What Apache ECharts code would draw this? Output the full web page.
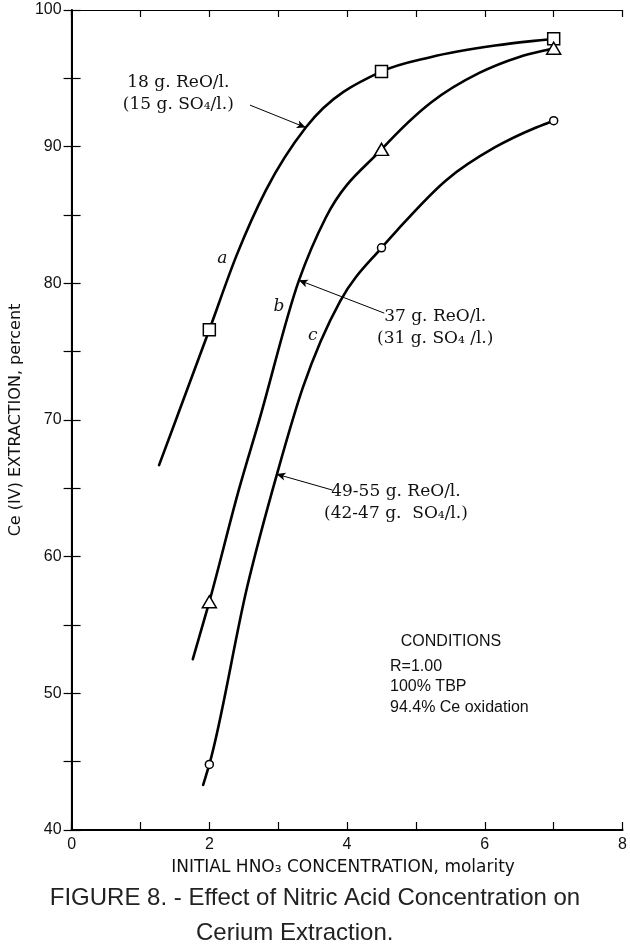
<!DOCTYPE html>
<html><head><meta charset="utf-8">
<script src="https://cdn.jsdelivr.net/npm/echarts@6/dist/echarts.min.js"></script>
<style>html,body{margin:0;padding:0;background:#fff}#c{width:630px;height:952px}</style>
</head><body><div id="c"></div>
<script>
// ---- data ----
const xTickLabels = [0, 2, 4, 6, 8];
const yTickLabels = [40, 50, 60, 70, 80, 90, 100];
const markerX = [2, 4.5, 7];
const squareY = [76.6, 95.5, 97.9];     // curve a
const triangleY = [56.7, 89.8, 97.2];   // curve b
const circleY = [44.8, 82.6, 91.9];     // curve c
const curveAX = [1.27, 2.0, 2.40, 2.82, 3.40, 4.5, 5.21, 6.15, 7.0];
const curveAY = [66.7, 76.6, 82.1, 86.8, 91.4, 95.5, 96.55, 97.4, 97.9];
const curveBX = [1.76, 2.0, 2.44, 2.72, 3.30, 3.69, 4.5, 5.21, 5.92, 6.49, 7.0];
const curveBY = [52.5, 56.7, 65.1, 69.9, 80.2, 84.8, 89.8, 93.2, 95.4, 96.55, 97.2];
const curveCX = [1.91, 2.0, 2.55, 2.98, 3.36, 3.90, 4.5, 4.73, 5.44, 6.15, 6.72, 7.0];
const curveCY = [43.3, 44.8, 57.8, 66.0, 72.4, 78.7, 82.6, 83.9, 87.55, 89.96, 91.35, 91.9];
const curveLetters = ['a', 'b', 'c'];
const curveNotes = ['18 g. ReO/l.\n(15 g. SO\u2084/l.)', '37 g. ReO/l.\n(31 g. SO\u2084 /l.)', '49-55 g. ReO/l.\n(42-47 g.  SO\u2084/l.)'];
const conditions = ['CONDITIONS', 'R=1.00', '100% TBP', '94.4% Ce oxidation'];

const pairs = (xs, ys) => xs.map((x, i) => [x, ys[i]]);
const chart = echarts.init(document.getElementById('c'), null, {renderer: 'canvas'});
const ink = '#111';
const serif = 'DejaVu Serif';
const sans = 'Liberation Sans';

// smooth C1 curve through the read points (cubic Hermite), mapped through the axes with api.coord
function curvePath(xs, ys, api) {
  const n = xs.length, h = [], d = [], m = [];
  for (let i = 0; i < n - 1; i++) { h[i] = xs[i + 1] - xs[i]; d[i] = (ys[i + 1] - ys[i]) / h[i]; }
  m[0] = d[0]; m[n - 1] = d[n - 2];
  for (let i = 1; i < n - 1; i++) m[i] = (d[i - 1] * h[i] + d[i] * h[i - 1]) / (h[i - 1] + h[i]);
  const P = (x, y) => api.coord([x, y]);
  const s = p => p[0].toFixed(2) + ' ' + p[1].toFixed(2);
  let path = 'M' + s(P(xs[0], ys[0]));
  for (let i = 0; i < n - 1; i++) {
    const c1 = P(xs[i] + h[i] / 3, ys[i] + m[i] * h[i] / 3);
    const c2 = P(xs[i + 1] - h[i] / 3, ys[i + 1] - m[i + 1] * h[i] / 3);
    path += ' C' + s(c1) + ' ' + s(c2) + ' ' + s(P(xs[i + 1], ys[i + 1]));
  }
  return path;
}
const curveSeries = (name, xs, ys) => ({
  name, type: 'custom', coordinateSystem: 'cartesian2d', data: pairs(xs, ys), silent: true, z: 2,
  encode: {x: 0, y: 1},
  renderItem: (params, api) => params.dataIndex !== 0 ? null : {
    type: 'path', shape: {pathData: curvePath(xs, ys, api)},
    style: {fill: 'none', stroke: '#000', lineWidth: 2.6, lineCap: 'round', lineJoin: 'round'}
  }
});
const markerSeries = (name, ys, symbol, size) => ({
  name, type: 'scatter', data: pairs(markerX, ys), symbol, symbolSize: size,
  itemStyle: {color: '#fff', borderColor: '#000', borderWidth: 1.5, opacity: 1}, z: 3, silent: true
});

const textItem = (pos, text, style) => ({value: pos, label: Object.assign({show: true, formatter: text, position: 'inside', color: ink}, style)});

const option = {
  animation: false,
  backgroundColor: '#fff',
  grid: {left: 61, right: 7, top: 10, bottom: 122, containLabel: false},
  xAxis: [{
    type: 'value', min: 0, max: 8, interval: 1, position: 'bottom',
    axisLine: {lineStyle: {color: '#000', width: 2}},
    axisTick: {inside: true, length: 8, lineStyle: {color: '#000', width: 1.2}},
    axisLabel: {formatter: v => xTickLabels.includes(v) ? String(v) : '', color: ink, fontSize: 16, fontFamily: sans, margin: 7},
    splitLine: {show: false},
    name: 'INITIAL HNO\u2083 CONCENTRATION, molarity', nameLocation: 'middle', nameGap: 29,
    nameTextStyle: {color: ink, fontSize: 17, fontFamily: 'DejaVu Sans', padding: [0, 8, 0, 0]}
  }, {
    type: 'value', min: 0, max: 8, interval: 1, position: 'top',
    axisLine: {lineStyle: {color: '#000', width: 1.2}},
    axisTick: {inside: true, length: 7, lineStyle: {color: '#000', width: 1.2}},
    axisLabel: {show: false}, splitLine: {show: false}
  }],
  yAxis: [{
    type: 'value', min: 40, max: 100, interval: 5, position: 'left',
    axisLine: {lineStyle: {color: '#000', width: 2}},
    axisTick: {inside: true, length: 9, lineStyle: {color: '#000', width: 1.2}},
    axisLabel: {formatter: v => yTickLabels.includes(v) ? String(v) : '', color: ink, fontSize: 16, fontFamily: sans, margin: 10},
    splitLine: {show: false},
    name: 'Ce (IV) EXTRACTION, percent', nameLocation: 'middle', nameGap: 40, nameRotate: 90,
    nameTextStyle: {color: ink, fontSize: 16, fontFamily: 'DejaVu Sans'}
  }, {
    type: 'value', min: 40, max: 100, interval: 5, position: 'right',
    axisLine: {lineStyle: {color: '#000', width: 1.2}},
    axisTick: {inside: true, length: 8, lineStyle: {color: '#000', width: 1.2}},
    axisLabel: {show: false}, splitLine: {show: false}
  }],
  series: [
    curveSeries('a', curveAX, curveAY),
    curveSeries('b', curveBX, curveBY),
    curveSeries('c', curveCX, curveCY),
    markerSeries('a pts', squareY, 'rect', 12),
    markerSeries('b pts', triangleY, 'triangle', [14, 12]),
    markerSeries('c pts', circleY, 'circle', 8),
    {
      name: 'notes', type: 'scatter', symbolSize: 0, silent: true, z: 4,
      itemStyle: {opacity: 1},
      data: [
        textItem([1.55, 93.85], curveNotes[0], {fontFamily: serif, fontSize: 17, lineHeight: 22, align: 'center'}),
        textItem([5.28, 76.76], curveNotes[1], {fontFamily: serif, fontSize: 17, lineHeight: 22, align: 'center'}),
        textItem([4.71, 63.96], curveNotes[2], {fontFamily: serif, fontSize: 17, lineHeight: 22, align: 'center'}),
        textItem([2.19, 81.84], curveLetters[0], {fontFamily: serif, fontSize: 17, fontStyle: 'italic'}),
        textItem([3.01, 78.28], curveLetters[1], {fontFamily: serif, fontSize: 17, fontStyle: 'italic'}),
        textItem([3.50, 76.21], curveLetters[2], {fontFamily: serif, fontSize: 17, fontStyle: 'italic'})
      ],
      markLine: {
        silent: true, symbol: ['none', 'arrow'], symbolSize: [6, 9], animation: false,
        lineStyle: {color: '#000', width: 1, type: 'solid', opacity: 1}, label: {show: false},
        data: [
          [{coord: [2.59, 93.04]}, {coord: [3.40, 91.40]}],
          [{coord: [4.54, 77.82]}, {coord: [3.30, 80.23]}],
          [{coord: [3.79, 64.87]}, {coord: [2.975, 66.04]}]
        ]
      }
    }
  ],
  graphic: [
    {type: 'text', x: 451, y: 642, style: {text: conditions[0], fill: ink, font: '16px "Liberation Sans"', textAlign: 'center', textVerticalAlign: 'middle'}},
    {type: 'text', x: 390, y: 667, style: {text: conditions[1], fill: ink, font: '16px "Liberation Sans"', textAlign: 'left', textVerticalAlign: 'middle'}},
    {type: 'text', x: 390, y: 687, style: {text: conditions[2], fill: ink, font: '16px "Liberation Sans"', textAlign: 'left', textVerticalAlign: 'middle'}},
    {type: 'text', x: 390, y: 708, style: {text: conditions[3], fill: ink, font: '16px "Liberation Sans"', textAlign: 'left', textVerticalAlign: 'middle'}},
    {type: 'text', x: 315, y: 898, style: {text: 'FIGURE 8. - Effect of Nitric Acid Concentration on', fill: '#222', font: '24px "Liberation Sans"', textAlign: 'center', textVerticalAlign: 'middle'}},
    {type: 'text', x: 196, y: 933, style: {text: 'Cerium Extraction.', fill: '#222', font: '24px "Liberation Sans"', textAlign: 'left', textVerticalAlign: 'middle'}}
  ]
};
chart.setOption(option);
</script></body></html>
